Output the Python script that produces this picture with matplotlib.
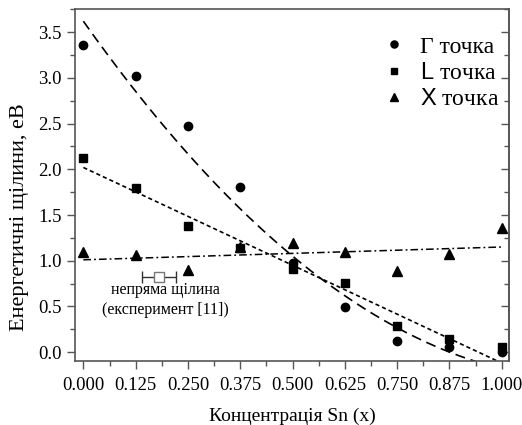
import numpy as np
import matplotlib.pyplot as plt
from matplotlib.ticker import MultipleLocator, FormatStrFormatter

plt.rcParams['font.family'] = ['Liberation Serif', 'DejaVu Serif']
plt.rcParams['mathtext.fontset'] = 'custom'
plt.rcParams['mathtext.sf'] = 'Liberation Sans'
plt.rcParams['mathtext.rm'] = 'Liberation Serif'

# Sn concentration
x = [0.0, 0.125, 0.25, 0.375, 0.5, 0.625, 0.75, 0.875, 1.0]
# band gaps, eV
gap_gamma = [3.36, 3.02, 2.47, 1.81, 0.98, 0.49, 0.12, 0.06, 0.0]
gap_L = [2.12, 1.79, 1.38, 1.14, 0.91, 0.76, 0.29, 0.14, 0.06]
gap_X = [1.10, 1.06, 0.90, 1.15, 1.19, 1.10, 0.89, 1.07, 1.36]

# trend line coefficients (highest power first)
fit_gamma = [2.674, -6.477, 3.62]
fit_L = [-2.14, 2.02]
fit_X = [0.14, 1.01]

# experimental indirect gap
exp_x = 0.18
exp_xerr = 0.041
exp_gap = 0.82

fig = plt.figure(figsize=(5.22, 4.25), dpi=100)
ax = fig.add_axes([0.1437, 0.15, 0.832, 0.828])

xs = np.linspace(0, 1, 200)
ax.plot(xs, np.polyval(fit_gamma, xs), color='black', lw=1.2, dashes=(6, 3.5))
ax.plot(xs, np.polyval(fit_L, xs), color='black', lw=1.2, dashes=(2.5, 1.8))
ax.plot(xs, np.polyval(fit_X, xs), color='black', lw=1.1, dashes=(5, 2, 1.2, 2))

ax.plot(x, gap_gamma, 'o', color='black', ms=6, label='Γ точка')
ax.plot(x, gap_L, 's', color='black', ms=5.5, label=r'$\mathsf{L}$ точка')
ax.plot(x, gap_X, '^', color='black', ms=6.5, label=r'$\mathsf{X}$ точка')

ax.errorbar([exp_x], [exp_gap], xerr=[exp_xerr], fmt='s', ms=7, mfc='white',
            mec='#777777', mew=1.0, ecolor='#333333', elinewidth=1.0, capsize=4)
ax.text(0.195, 0.68, 'непряма щілина', ha='center', va='center', fontsize=11.5)
ax.text(0.195, 0.465, '(експеримент [11])', ha='center', va='center', fontsize=11.5)

ax.set_xlim(-0.02, 1.018)
ax.set_ylim(-0.1, 3.75)
ax.xaxis.set_major_locator(MultipleLocator(0.125))
ax.xaxis.set_minor_locator(MultipleLocator(0.0625))
ax.xaxis.set_major_formatter(FormatStrFormatter('%.3f'))
ax.yaxis.set_major_locator(MultipleLocator(0.5))
ax.yaxis.set_minor_locator(MultipleLocator(0.25))
ax.yaxis.set_major_formatter(FormatStrFormatter('%.1f'))

for s in ax.spines.values():
    s.set_color('#555555')
    s.set_linewidth(1.2)
ax.tick_params(which='both', direction='out', colors='#555555', labelcolor='black',
               labelsize=13.5, top=False, right=False)
ax.tick_params(which='major', length=6, width=1.0)
ax.tick_params(which='minor', length=3.5, width=1.0)
ax.tick_params(axis='x', pad=5)

# inward ticks on the right spine
ay = ax.secondary_yaxis('right')
ay.yaxis.set_major_locator(MultipleLocator(0.5))
ay.yaxis.set_minor_locator(MultipleLocator(0.25))
ay.tick_params(which='both', direction='in', colors='#555555', labelright=False)
ay.tick_params(which='major', length=6, width=1.0)
ay.tick_params(which='minor', length=3.5, width=1.0)
ay.spines['right'].set_color('#555555')
ay.spines['right'].set_linewidth(1.2)

ax.set_xlabel('Концентрація Sn (x)', fontsize=14, labelpad=10)
ax.set_ylabel('Енергетичні щілини, eB', fontsize=16)
ax.yaxis.set_label_coords(-0.105, 0.41)

ax.legend(loc='upper left', bbox_to_anchor=(0.707, 0.924), frameon=False, fontsize=17,
          handlelength=1.0, handletextpad=0.62, labelspacing=0.2, borderaxespad=0,
          borderpad=0, markerscale=0.85)

fig.savefig('out.png', dpi=100)
